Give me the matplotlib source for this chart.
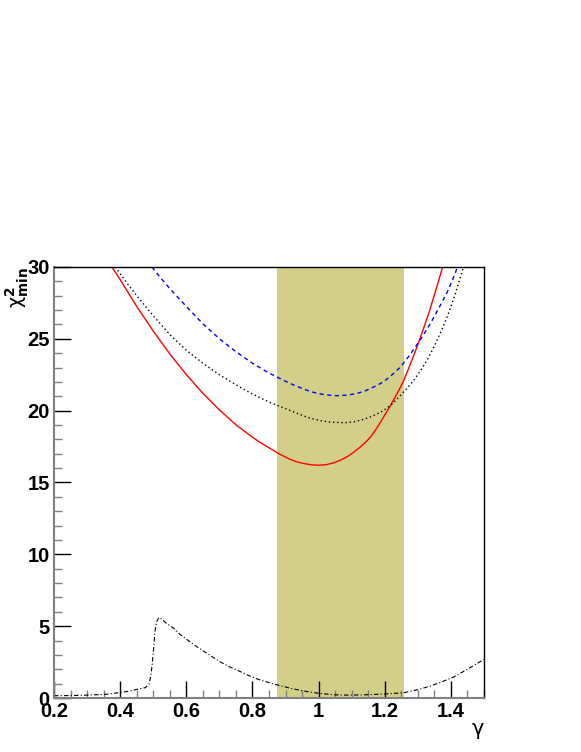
import matplotlib
matplotlib.use('Agg')
import matplotlib.pyplot as plt
from matplotlib.ticker import MultipleLocator, FormatStrFormatter

# values
g_red = [0.375, 0.40, 0.45, 0.50, 0.55, 0.60, 0.65, 0.70, 0.75, 0.80, 0.824,
         0.855, 0.875, 0.895, 0.915, 0.935, 0.955, 0.978, 1.0, 1.023, 1.046,
         1.066, 1.087, 1.107, 1.127, 1.143, 1.158, 1.173, 1.188, 1.203, 1.218,
         1.231, 1.243, 1.258, 1.276, 1.294, 1.314, 1.334, 1.352, 1.37, 1.375]
c_red = [30.0, 29.12, 27.25, 25.54, 23.95, 22.51, 21.21, 20.05, 19.02, 18.15, 17.77,
         17.35, 17.07, 16.82, 16.6, 16.43, 16.32, 16.23, 16.2, 16.24, 16.37,
         16.55, 16.8, 17.12, 17.49, 17.82, 18.19, 18.68, 19.23, 19.8, 20.39,
         20.92, 21.43, 22.13, 23.15, 24.22, 25.5, 26.85, 28.2, 29.6, 30.0]

g_blue = [0.496, 0.52, 0.55, 0.60, 0.65, 0.70, 0.75, 0.80, 0.85, 0.895, 0.925,
          0.955, 0.98, 1.006, 1.03, 1.057, 1.087, 1.117, 1.143, 1.168, 1.188,
          1.203, 1.225, 1.248, 1.27, 1.289, 1.315, 1.339, 1.365, 1.39, 1.405, 1.42]
c_blue = [30.0, 29.3, 28.5, 27.25, 26.05, 25.0, 24.1, 23.3, 22.62, 22.1, 21.78,
          21.5, 21.3, 21.16, 21.08, 21.04, 21.08, 21.2, 21.4, 21.66, 21.9,
          22.13, 22.55, 23.05, 23.7, 24.3, 25.2, 26.1, 27.2, 28.3, 29.1, 30.0]

g_dot = [0.385, 0.42, 0.45, 0.50, 0.55, 0.60, 0.65, 0.70, 0.75, 0.80, 0.855,
         0.885, 0.915, 0.945, 0.976, 1.006, 1.036, 1.077, 1.107, 1.137, 1.163,
         1.188, 1.205, 1.223, 1.24, 1.258, 1.275, 1.289, 1.31, 1.33, 1.35,
         1.37, 1.39, 1.41, 1.425, 1.438]
c_dot = [30.0, 28.9, 28.0, 26.6, 25.3, 24.2, 23.3, 22.5, 21.8, 21.15, 20.55,
         20.28, 20.0, 19.72, 19.46, 19.3, 19.2, 19.16, 19.22, 19.4, 19.62,
         19.9, 20.15, 20.48, 20.88, 21.32, 21.76, 22.15, 22.85, 23.6, 24.5,
         25.5, 26.6, 27.9, 29.0, 30.0]

g_dd = [0.2, 0.25, 0.30, 0.36, 0.42, 0.45, 0.476, 0.487, 0.493, 0.497, 0.501,
        0.505, 0.51, 0.517, 0.525, 0.54, 0.562, 0.58, 0.60, 0.63, 0.663, 0.70,
        0.73, 0.764, 0.79, 0.82, 0.865, 0.92, 0.966, 1.0, 1.047, 1.09, 1.137,
        1.2, 1.258, 1.30, 1.339, 1.37, 1.41, 1.45, 1.5]
c_dd = [0.16, 0.17, 0.2, 0.26, 0.45, 0.6, 0.72, 0.95, 1.6, 2.4, 3.4,
        4.6, 5.3, 5.6, 5.5, 5.2, 4.85, 4.45, 4.1, 3.6, 3.1, 2.55,
        2.18, 1.83, 1.55, 1.28, 0.97, 0.65, 0.44, 0.33, 0.22, 0.2, 0.22,
        0.28, 0.37, 0.58, 0.84, 1.1, 1.48, 2.0, 2.69]

band_lo = 0.873
band_hi = 1.258

plt.rcParams['font.family'] = ['Liberation Sans', 'DejaVu Sans']
plt.rcParams['mathtext.fontset'] = 'dejavusans'

fig = plt.figure(figsize=(5.81, 7.52), dpi=100)
ax = fig.add_axes([0.093, 0.0718, 0.740, 0.5732])

# shaded band
ax.axvspan(band_lo, band_hi, color='#d4cf88', lw=0, zorder=0)

ax.plot(g_red, c_red, color='red', lw=1.0, zorder=3)
ax.plot(g_blue, c_blue, color='blue', lw=1.0, linestyle=(0, (3, 2.5)), zorder=3)
ax.plot(g_dot, c_dot, color='black', lw=1.0, linestyle=(0, (1, 2)), zorder=3)
ax.plot(g_dd, c_dd, color='black', lw=0.8, linestyle=(0, (4, 2, 1, 2)), zorder=3)

ax.set_xlim(0.2, 1.5)
ax.set_ylim(0, 30)

ax.xaxis.set_major_locator(MultipleLocator(0.2))
ax.xaxis.set_minor_locator(MultipleLocator(0.05))
ax.yaxis.set_major_locator(MultipleLocator(5))
ax.yaxis.set_minor_locator(MultipleLocator(1))
ax.xaxis.set_major_formatter(FormatStrFormatter('%g'))

ax.tick_params(which='major', direction='in', length=12, width=1.0, color='black',
               labelsize=14.5, pad=3)
ax.tick_params(which='minor', direction='in', length=6, width=1.0, color='#808080')
ax.tick_params(top=False, right=False)
for lab in ax.get_xticklabels() + ax.get_yticklabels():
    lab.set_fontweight('bold')

for s in ['left', 'bottom']:
    ax.spines[s].set_color('#808080')
    ax.spines[s].set_linewidth(1.5)
for s in ['top', 'right']:
    ax.spines[s].set_color('black')
    ax.spines[s].set_linewidth(1.0)
for s in ax.spines.values():
    s.set_zorder(5)

fig.text(0.833, 0.030, 'γ', fontsize=15, ha='right', va='center',
         family='DejaVu Sans')
fig.text(0.029, 0.645, r'$\mathrm{\chi}^{\mathbf{2}}_{\mathbf{min}}$', fontsize=14,
         rotation=90, ha='center', va='top')

fig.savefig('out.png', dpi=100)
